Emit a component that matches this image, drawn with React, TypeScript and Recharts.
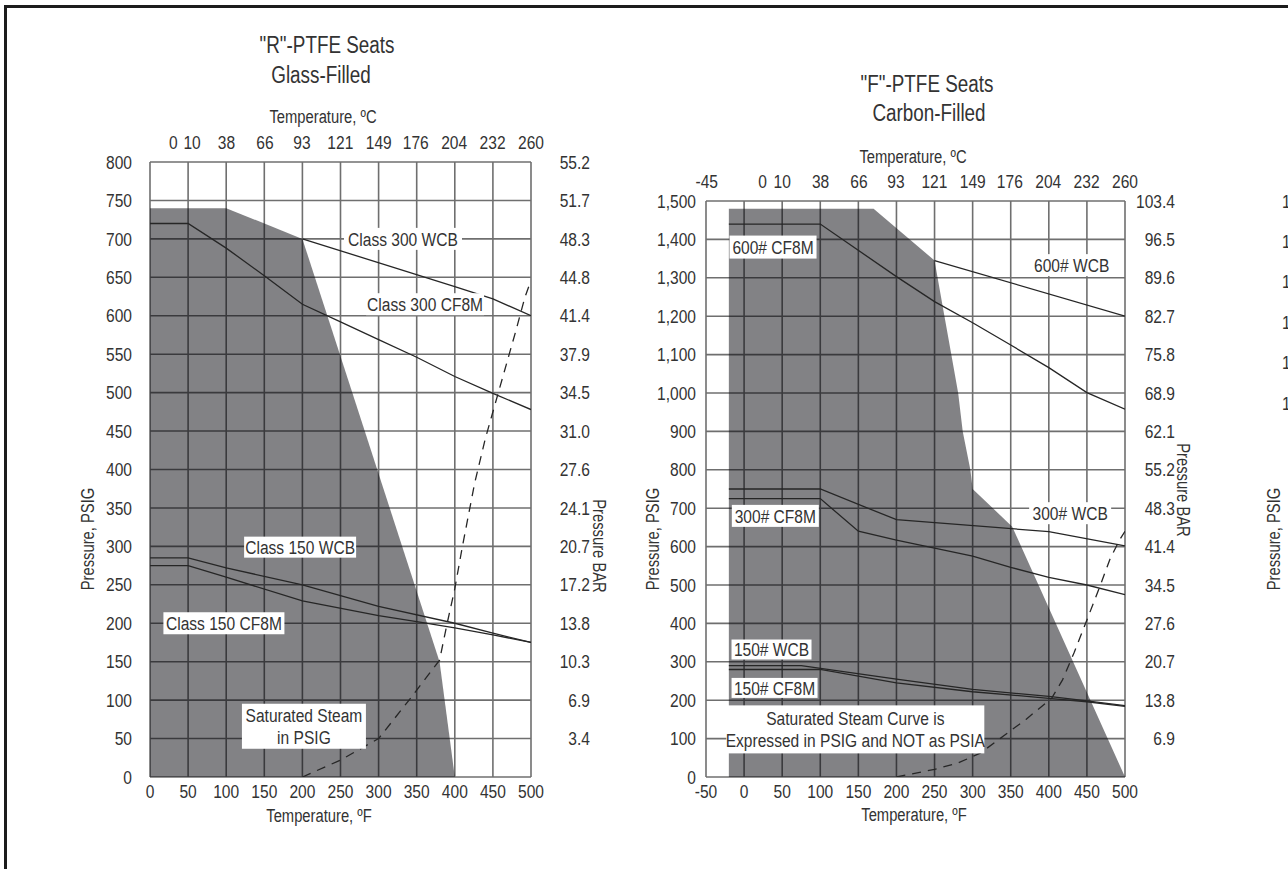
import {
  Area,
  CartesianGrid,
  ComposedChart,
  Line,
  ReferenceDot,
  XAxis,
  YAxis,
} from "recharts";

// Arial metrics squeezed sideways to stand in for the condensed face
const FONT = '"Liberation Sans", Arial, sans-serif';
const SQUEEZE = 0.82;
const INK = "#333";
const GRID = "#6f6f6f";
const LINE = "#262626";

// ---- "R" glass-filled chart (°F -> psig) ----
const R_SEAT = [
  { t: 0, p: 740 },
  { t: 100, p: 740 },
  { t: 200, p: 700 },
  { t: 380, p: 150 },
  { t: 400, p: 0 },
];
const R_300_WCB = [
  { t: 200, p: 700 },
  { t: 400, p: 638 },
  { t: 450, p: 622 },
  { t: 500, p: 600 },
];
const R_300_CF8M = [
  { t: 0, p: 720 },
  { t: 50, p: 720 },
  { t: 100, p: 688 },
  { t: 150, p: 652 },
  { t: 200, p: 615 },
  { t: 250, p: 592 },
  { t: 300, p: 569 },
  { t: 350, p: 546 },
  { t: 400, p: 521 },
  { t: 450, p: 499 },
  { t: 500, p: 478 },
];
const R_150_WCB = [
  { t: 0, p: 285 },
  { t: 50, p: 285 },
  { t: 100, p: 272 },
  { t: 200, p: 250 },
  { t: 300, p: 222 },
  { t: 400, p: 200 },
  { t: 450, p: 187 },
  { t: 500, p: 175 },
];
const R_150_CF8M = [
  { t: 0, p: 275 },
  { t: 50, p: 275 },
  { t: 100, p: 260 },
  { t: 200, p: 229 },
  { t: 300, p: 210 },
  { t: 350, p: 202 },
  { t: 400, p: 194 },
  { t: 450, p: 185 },
  { t: 500, p: 175 },
];
const R_STEAM = [
  { t: 200, p: 0 },
  { t: 250, p: 22 },
  { t: 300, p: 50 },
  { t: 340, p: 100 },
  { t: 380, p: 152 },
  { t: 390, p: 200 },
  { t: 400, p: 245 },
  { t: 410, p: 300 },
  { t: 426, p: 382 },
  { t: 440, p: 440 },
  { t: 460, p: 510 },
  { t: 480, p: 580 },
  { t: 492, p: 624 },
  { t: 500, p: 646 },
];
const R_F_TICKS = [0, 50, 100, 150, 200, 250, 300, 350, 400, 450, 500];
const R_C_TICKS = [0, 10, 38, 66, 93, 121, 149, 176, 204, 232, 260];
const R_PSI_TICKS = [0, 50, 100, 150, 200, 250, 300, 350, 400, 450, 500, 550, 600, 650, 700, 750, 800];
const R_BAR_TICKS = [50, 100, 150, 200, 250, 300, 350, 400, 450, 500, 550, 600, 650, 700, 750, 800];
const R_BAR_LABELS = ["3.4", "6.9", "10.3", "13.8", "17.2", "20.7", "24.1", "27.6", "31.0", "34.5", "37.9", "41.4", "44.8", "48.3", "51.7", "55.2"];
const R_NOTES = [
  { lines: ["Class 300 WCB"], t: 332, p: 700, w: 118, h: 22 },
  { lines: ["Class 300 CF8M"], t: 361, p: 615, w: 118, h: 22 },
  { lines: ["Class 150 WCB"], t: 197, p: 299, w: 112, h: 21 },
  { lines: ["Class 150 CF8M"], t: 97, p: 200, w: 121, h: 22 },
  { lines: ["Saturated Steam", "in PSIG"], t: 202, p: 66, w: 124, h: 45 },
];

// ---- "F" carbon-filled chart ----
const F_SEAT = [
  { t: -20, p: 1480 },
  { t: 170, p: 1480 },
  { t: 250, p: 1345 },
  { t: 263, p: 1200 },
  { t: 272, p: 1100 },
  { t: 281, p: 1000 },
  { t: 287, p: 900 },
  { t: 297, p: 800 },
  { t: 300, p: 750 },
  { t: 352, p: 652 },
  { t: 500, p: 0 },
];
const F_600_WCB = [
  { t: 250, p: 1345 },
  { t: 500, p: 1200 },
];
const F_600_CF8M = [
  { t: -20, p: 1440 },
  { t: 100, p: 1440 },
  { t: 200, p: 1303 },
  { t: 250, p: 1238 },
  { t: 300, p: 1183 },
  { t: 350, p: 1125 },
  { t: 400, p: 1066 },
  { t: 450, p: 1001 },
  { t: 500, p: 958 },
];
const F_300_WCB = [
  { t: -20, p: 750 },
  { t: 100, p: 750 },
  { t: 200, p: 670 },
  { t: 400, p: 639 },
  { t: 500, p: 602 },
];
const F_300_CF8M = [
  { t: -20, p: 725 },
  { t: 100, p: 725 },
  { t: 150, p: 640 },
  { t: 200, p: 617 },
  { t: 250, p: 596 },
  { t: 300, p: 575 },
  { t: 350, p: 546 },
  { t: 400, p: 520 },
  { t: 450, p: 500 },
  { t: 500, p: 475 },
];
const F_150_WCB = [
  { t: -20, p: 290 },
  { t: 75, p: 290 },
  { t: 200, p: 255 },
  { t: 300, p: 228 },
  { t: 400, p: 210 },
  { t: 450, p: 198 },
  { t: 500, p: 186 },
];
const F_150_CF8M = [
  { t: -20, p: 280 },
  { t: 100, p: 280 },
  { t: 200, p: 245 },
  { t: 300, p: 222 },
  { t: 400, p: 205 },
  { t: 450, p: 196 },
  { t: 500, p: 184 },
];
const F_STEAM = [
  { t: 200, p: 0 },
  { t: 250, p: 20 },
  { t: 280, p: 36 },
  { t: 310, p: 62 },
  { t: 340, p: 106 },
  { t: 370, p: 150 },
  { t: 404, p: 206 },
  { t: 418, p: 253 },
  { t: 433, p: 323 },
  { t: 450, p: 409 },
  { t: 467, p: 496 },
  { t: 480, p: 566 },
  { t: 493, p: 618 },
  { t: 500, p: 640 },
];
const F_F_TICKS = [-50, 0, 50, 100, 150, 200, 250, 300, 350, 400, 450, 500];
const F_C_TICKS = [-45, 0, 10, 38, 66, 93, 121, 149, 176, 204, 232, 260];
const F_PSI_TICKS = [0, 100, 200, 300, 400, 500, 600, 700, 800, 900, 1000, 1100, 1200, 1300, 1400, 1500];
const F_BAR_TICKS = [100, 200, 300, 400, 500, 600, 700, 800, 900, 1000, 1100, 1200, 1300, 1400, 1500];
const F_BAR_LABELS = ["6.9", "13.8", "20.7", "27.6", "34.5", "41.4", "48.3", "55.2", "62.1", "68.9", "75.8", "82.7", "89.6", "96.5", "103.4"];
const F_NOTES = [
  { lines: ["600# CF8M"], t: 38, p: 1380, w: 87, h: 23 },
  { lines: ["600# WCB"], t: 430, p: 1333, w: 82, h: 22 },
  { lines: ["300# WCB"], t: 428, p: 687, w: 82, h: 22 },
  { lines: ["300# CF8M"], t: 41, p: 680, w: 87, h: 22 },
  { lines: ["150# WCB"], t: 36, p: 332, w: 80, h: 20 },
  { lines: ["150# CF8M"], t: 40, p: 232, w: 86, h: 20 },
  {
    lines: ["Saturated Steam Curve is", "Expressed in PSIG and NOT as PSIA"],
    t: 146,
    p: 124,
    w: 258,
    h: 48,
  },
];

const fToC = (f: number) => ((f - 32) * 5) / 9;

type Note = { lines: string[]; t: number; p: number; w: number; h: number };

function NarrowTick(props: any) {
  const { x, y, payload, verticalAnchor, anchor, textAnchor, fmt, nudge } = props;
  const v = payload.value;
  const label = fmt ? fmt(v) : String(v);
  const dy = verticalAnchor === "start" ? "0.71em" : verticalAnchor === "end" ? "0" : "0.35em";
  const dx = nudge && nudge[v] ? nudge[v] : 0;
  return (
    <g transform={`translate(${x + dx},${y}) scale(${SQUEEZE},1)`}>
      <text
        x={0}
        y={0}
        dy={dy}
        textAnchor={anchor ?? textAnchor}
        fill={INK}
        fontSize={19}
        fontFamily={FONT}
      >
        {label}
      </text>
    </g>
  );
}

function NoteShape(props: any) {
  const { cx, cy, note } = props;
  const n: Note = note;
  const lh = 22;
  return (
    <g>
      <rect x={cx - n.w / 2} y={cy - n.h / 2} width={n.w} height={n.h} fill="#fff" />
      {n.lines.map((s, i) => (
        <text
          key={i}
          transform={`translate(${cx},${cy + (i - (n.lines.length - 1) / 2) * lh}) scale(${SQUEEZE},1)`}
          x={0}
          y={0}
          dy="0.36em"
          textAnchor="middle"
          fill={INK}
          fontSize={19}
          fontFamily={FONT}
        >
          {s}
        </text>
      ))}
    </g>
  );
}

function Text({ x, y, size, rotate, children }: any) {
  return (
    <div
      style={{
        position: "absolute",
        left: x,
        top: y,
        transform: `translate(-50%, -50%)${rotate ? ` rotate(${rotate}deg)` : ""} scaleX(${SQUEEZE})`,
        whiteSpace: "nowrap",
        fontFamily: FONT,
        fontSize: size,
        lineHeight: 1,
        color: INK,
      }}
    >
      {children}
    </div>
  );
}

function RatingChart(props: {
  left: number;
  top: number;
  width: number;
  height: number;
  fDomain: [number, number];
  fTicks: number[];
  cTicks: number[];
  cNudge: Record<number, number>;
  psiMax: number;
  psiTicks: number[];
  barTicks: number[];
  barLabels: string[];
  yWidth: number;
  topHeight: number;
  leftMargin: number;
  topMargin: number;
  rightMargin: number;
  comma: boolean;
  onlyLeft?: boolean;
  seat: { t: number; p: number }[];
  lines: { t: number; p: number }[][];
  steam: { t: number; p: number }[];
  notes: Note[];
}) {
  const p = props;
  const cDomain: [number, number] = [fToC(p.fDomain[0]), fToC(p.fDomain[1])];
  const cData = p.cTicks.map((c) => ({ c, p: 0 }));
  return (
    <div style={{ position: "absolute", left: p.left, top: p.top }}>
      <ComposedChart
        width={p.width}
        height={p.height}
        margin={{ top: 0, right: 0, bottom: 0, left: 0 }}
      >
        <CartesianGrid
          xAxisId="f"
          yAxisId="p"
          stroke={GRID}
          strokeWidth={1.6}
          fill="#fff"
        />
        <XAxis
          xAxisId="f"
          dataKey="t"
          type="number"
          domain={p.fDomain}
          allowDataOverflow
          ticks={p.fTicks}
          interval={0}
          axisLine={false}
          tickLine={false}
          tickSize={0}
          tickMargin={8}
          height={30}
          hide={p.onlyLeft}
          tick={<NarrowTick />}
        />
        <XAxis
          xAxisId="c"
          dataKey="c"
          orientation="top"
          type="number"
          domain={cDomain}
          allowDataOverflow
          ticks={p.cTicks}
          interval={0}
          axisLine={false}
          tickLine={false}
          tickSize={0}
          tickMargin={p.topMargin}
          height={p.topHeight}
          tick={<NarrowTick nudge={p.cNudge} />}
        />
        <YAxis
          yAxisId="p"
          type="number"
          domain={[0, p.psiMax]}
          allowDataOverflow
          ticks={p.psiTicks}
          interval={0}
          axisLine={false}
          tickLine={false}
          tickSize={0}
          tickMargin={p.leftMargin}
          width={p.yWidth}
          tick={
            <NarrowTick
              fmt={(v: number) => (p.comma ? v.toLocaleString("en-US") : String(v))}
            />
          }
        />
        <YAxis
          yAxisId="b"
          orientation="right"
          type="number"
          domain={[0, p.psiMax]}
          allowDataOverflow
          ticks={p.barTicks}
          interval={0}
          axisLine={false}
          tickLine={false}
          tickSize={0}
          tickMargin={p.rightMargin}
          width={70}
          tick={
            <NarrowTick
              anchor="end"
              fmt={(v: number) => p.barLabels[p.barTicks.indexOf(v)] ?? ""}
            />
          }
        />
        {/* invisible carrier for the Celsius scale */}
        <Line
          xAxisId="c"
          yAxisId="p"
          data={cData}
          dataKey="p"
          stroke="none"
          dot={false}
          activeDot={false}
          isAnimationActive={false}
        />
        <Area
          xAxisId="f"
          yAxisId="p"
          data={p.seat}
          dataKey="p"
          type="linear"
          stroke="none"
          fill="#05060c"
          fillOpacity={0.5}
          isAnimationActive={false}
        />
        {p.lines.map((d, i) => (
          <Line
            key={i}
            xAxisId="f"
            yAxisId="p"
            data={d}
            dataKey="p"
            type="linear"
            stroke={LINE}
            strokeWidth={1.3}
            dot={false}
            activeDot={false}
            isAnimationActive={false}
          />
        ))}
        <Line
          xAxisId="f"
          yAxisId="p"
          data={p.steam}
          dataKey="p"
          type="linear"
          stroke={LINE}
          strokeWidth={1.3}
          strokeDasharray="9 7"
          dot={false}
          activeDot={false}
          isAnimationActive={false}
        />
        {p.notes.map((n, i) => (
          <ReferenceDot
            key={i}
            xAxisId="f"
            yAxisId="p"
            x={n.t}
            y={n.p}
            r={0}
            shape={(sp: any) => <NoteShape {...sp} note={n} />}
          />
        ))}
      </ComposedChart>
    </div>
  );
}

export default function App() {
  return (
    <div
      style={{
        position: "fixed",
        left: 0,
        top: 0,
        width: 1288,
        height: 869,
        overflow: "hidden",
        background: "#fff",
      }}
    >
      <div
        style={{
          position: "absolute",
          left: 4,
          top: 5,
          width: 2000,
          height: 2000,
          border: "3px solid #1c1c1c",
        }}
      />

      {/* "R" glass-filled */}
      <Text x={327} y={45} size={23}>"R"-PTFE Seats</Text>
      <Text x={321} y={75} size={23}>Glass-Filled</Text>
      <Text x={323} y={117} size={18}>Temperature, ºC</Text>
      <Text x={319} y={816} size={18}>Temperature, ºF</Text>
      <Text x={88} y={539} size={18} rotate={-90}>Pressure, PSIG</Text>
      <Text x={599} y={546} size={18} rotate={90}>Pressure BAR</Text>
      <RatingChart
        left={60}
        top={120}
        width={541}
        height={687}
        fDomain={[0, 500]}
        fTicks={R_F_TICKS}
        cTicks={R_C_TICKS}
        cNudge={{ 0: -1, 10: 4 }}
        psiMax={800}
        psiTicks={R_PSI_TICKS}
        barTicks={R_BAR_TICKS}
        barLabels={R_BAR_LABELS}
        yWidth={90}
        topHeight={42}
        leftMargin={18}
        topMargin={13}
        rightMargin={59}
        comma={false}
        seat={R_SEAT}
        lines={[R_300_WCB, R_300_CF8M, R_150_WCB, R_150_CF8M]}
        steam={R_STEAM}
        notes={R_NOTES}
      />

      {/* "F" carbon-filled */}
      <Text x={927} y={84} size={23}>"F"-PTFE Seats</Text>
      <Text x={929} y={113} size={23}>Carbon-Filled</Text>
      <Text x={913} y={157} size={18}>Temperature, ºC</Text>
      <Text x={914} y={815} size={18}>Temperature, ºF</Text>
      <Text x={653} y={539} size={18} rotate={-90}>Pressure, PSIG</Text>
      <Text x={1183} y={490} size={18} rotate={90}>Pressure BAR</Text>
      <RatingChart
        left={610}
        top={160}
        width={585}
        height={647}
        fDomain={[-50, 500]}
        fTicks={F_F_TICKS}
        cTicks={F_C_TICKS}
        cNudge={{ 0: -6, 10: 0 }}
        psiMax={1500}
        psiTicks={F_PSI_TICKS}
        barTicks={F_BAR_TICKS}
        barLabels={F_BAR_LABELS}
        yWidth={96}
        topHeight={41}
        leftMargin={10}
        topMargin={13}
        rightMargin={50}
        comma={true}
        seat={F_SEAT}
        lines={[F_600_WCB, F_600_CF8M, F_300_WCB, F_300_CF8M, F_150_WCB, F_150_CF8M]}
        steam={F_STEAM}
        notes={F_NOTES}
      />

      {/* next chart, cut off by the page edge */}
      <Text x={1274} y={539} size={18} rotate={-90}>Pressure, PSIG</Text>
      <RatingChart
        left={1235}
        top={160}
        width={585}
        height={647}
        fDomain={[-50, 500]}
        fTicks={F_F_TICKS}
        cTicks={[]}
        cNudge={{}}
        psiMax={1500}
        psiTicks={F_PSI_TICKS.slice(10)}
        barTicks={[]}
        barLabels={[]}
        yWidth={96}
        topHeight={41}
        leftMargin={10}
        topMargin={13}
        rightMargin={50}
        comma={true}
        onlyLeft
        seat={[]}
        lines={[]}
        steam={[]}
        notes={[]}
      />
    </div>
  );
}
